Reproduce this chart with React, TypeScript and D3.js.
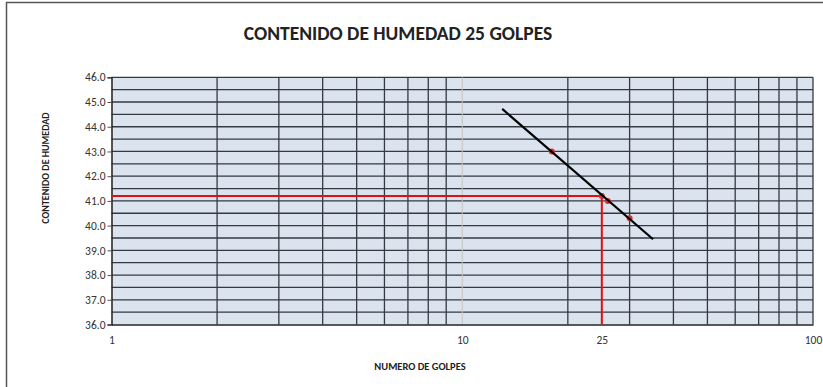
import { useEffect, useRef } from 'react';
import * as d3 from 'd3';

// points
const golpes = [18, 26, 30];
const humedad = [43.0, 41.0, 40.3];

// log trend line ends
const trendGolpes = [13, 35];
const trendHumedad = [44.72, 39.45];

// 25 blows reference
const refGolpes = 25;
const refHumedad = 41.2;

const yTicks = [36, 37, 38, 39, 40, 41, 42, 43, 44, 45, 46];
const xTickLabels = [1, 10, 25, 100];
const xMinor = [2, 3, 4, 5, 6, 7, 8, 9, 20, 30, 40, 50, 60, 70, 80, 90];

export default function App() {
	const svgRef = useRef<SVGSVGElement | null>(null);

	useEffect(() => {
		const svg = d3.select(svgRef.current);
		svg.selectAll('*').remove();

		const width = 823;
		const height = 387;
		const plot = { left: 111.5, right: 813, top: 77.3, bottom: 324.5 };
		const font = 'Calibri, Carlito, "Open Sans", sans-serif';

		const x = d3.scaleLog().domain([1, 100]).range([plot.left, plot.right]);
		const y = d3.scaleLinear().domain([36, 46]).range([plot.bottom, plot.top]);

		svg.attr('width', width).attr('height', height);

		svg.append('rect').attr('width', width).attr('height', height).attr('fill', '#fff');

		// outer frame
		svg.append('rect')
			.attr('x', 6.5)
			.attr('y', 2.5)
			.attr('width', width + 10)
			.attr('height', height + 10)
			.attr('fill', 'none')
			.attr('stroke', '#555')
			.attr('stroke-width', 1.5);

		svg.append('text')
			.attr('x', 398)
			.attr('y', 40)
			.attr('text-anchor', 'middle')
			.attr('font-family', font)
			.attr('font-weight', 'bold')
			.attr('font-size', 19.5)
			.attr('fill', '#222')
			.text('CONTENIDO DE HUMEDAD 25 GOLPES');

		// plot background
		svg.append('rect')
			.attr('x', plot.left)
			.attr('y', plot.top)
			.attr('width', plot.right - plot.left)
			.attr('height', plot.bottom - plot.top)
			.attr('fill', '#dbe3ee');

		// horizontal gridlines every 0.5
		const hLines = d3.range(36.5, 46.01, 0.5);
		svg.append('g')
			.selectAll('line')
			.data(hLines)
			.join('line')
			.attr('x1', plot.left)
			.attr('x2', plot.right)
			.attr('y1', (d) => y(d))
			.attr('y2', (d) => y(d))
			.attr('stroke', '#353a42')
			.attr('stroke-width', 1.3);

		// vertical gridlines
		svg.append('g')
			.selectAll('line')
			.data(xMinor.concat([100]))
			.join('line')
			.attr('x1', (d) => x(d))
			.attr('x2', (d) => x(d))
			.attr('y1', plot.top)
			.attr('y2', plot.bottom)
			.attr('stroke', '#353a42')
			.attr('stroke-width', 1.3);

		svg.append('line')
			.attr('x1', x(10))
			.attr('x2', x(10))
			.attr('y1', plot.top)
			.attr('y2', plot.bottom)
			.attr('stroke', '#c4c4c4')
			.attr('stroke-width', 1);

		// y axis
		const yAxis = svg.append('g')
			.attr('transform', `translate(${plot.left},0)`)
			.call(d3.axisLeft(y).tickValues(yTicks).tickSize(4).tickFormat((d) => d3.format('.1f')(d as number)));
		yAxis.select('.domain').attr('stroke', '#222').attr('stroke-width', 1.5);
		yAxis.selectAll('line').attr('stroke', '#555');
		yAxis.selectAll('text')
			.attr('font-family', font)
			.attr('font-size', 11.5)
			.attr('fill', '#333')
			.attr('x', -6);

		// x axis
		const xAxis = svg.append('g')
			.attr('transform', `translate(0,${plot.bottom})`)
			.call(d3.axisBottom(x).tickValues(xTickLabels).tickSize(0).tickFormat((d) => String(d)));
		xAxis.select('.domain').attr('stroke', '#222').attr('stroke-width', 1.5);
		xAxis.selectAll('text')
			.attr('font-family', font)
			.attr('font-size', 11.5)
			.attr('fill', '#333')
			.attr('y', 11);

		// reference lines at 25 blows
		svg.append('path')
			.attr('d', d3.line()([
				[x(1), y(refHumedad)],
				[x(refGolpes), y(refHumedad)],
				[x(refGolpes), y(36)],
			]))
			.attr('fill', 'none')
			.attr('stroke', '#e01010')
			.attr('stroke-width', 2);

		// points
		const pts = golpes.map((g, i) => [g, humedad[i]]).concat([[refGolpes, refHumedad]]);
		svg.append('g')
			.selectAll('circle')
			.data(pts)
			.join('circle')
			.attr('cx', (d) => x(d[0]))
			.attr('cy', (d) => y(d[1]))
			.attr('r', 3)
			.attr('fill', '#d83030');

		// trend line
		svg.append('path')
			.attr('d', d3.line<number>()
				.x((d) => x(d))
				.y((d, i) => y(trendHumedad[i]))(trendGolpes))
			.attr('fill', 'none')
			.attr('stroke', '#000')
			.attr('stroke-width', 2.2);

		svg.append('text')
			.attr('transform', `translate(49,168) rotate(-90)`)
			.attr('text-anchor', 'middle')
			.attr('font-family', font)
			.attr('font-weight', 'bold')
			.attr('font-size', 10)
			.attr('fill', '#222')
			.text('CONTENIDO DE HUMEDAD');

		svg.append('text')
			.attr('x', 420)
			.attr('y', 370)
			.attr('text-anchor', 'middle')
			.attr('font-family', font)
			.attr('font-weight', 'bold')
			.attr('font-size', 10.5)
			.attr('fill', '#222')
			.text('NUMERO DE GOLPES');

		return () => {
			svg.selectAll('*').remove();
		};
	}, []);

	return (
		<div style={{ position: 'absolute', left: 0, top: 0 }}>
			<svg ref={svgRef} style={{ display: 'block' }} />
		</div>
	);
}
